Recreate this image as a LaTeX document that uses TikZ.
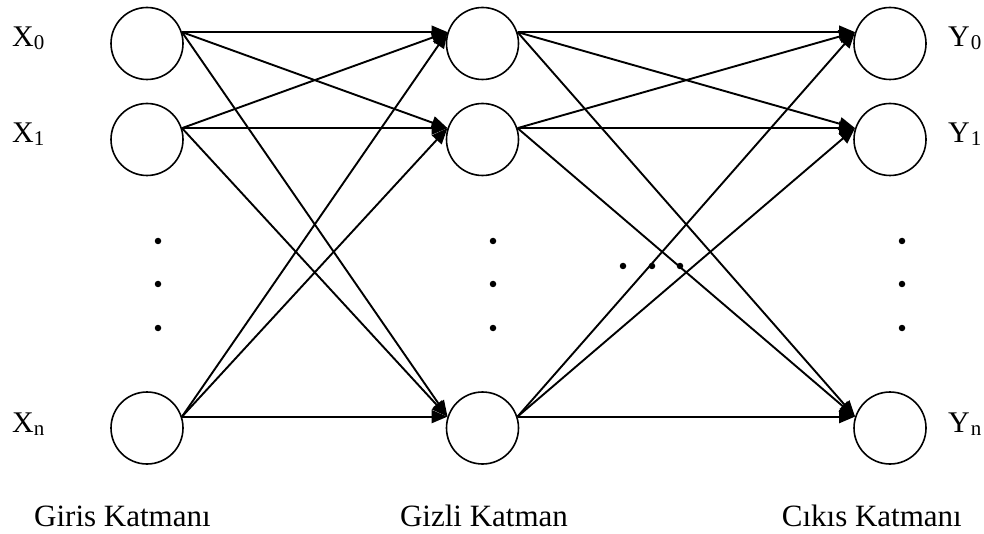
\documentclass[tikz,border=0pt]{standalone}
\usepackage{fontspec}
\setmainfont{Liberation Serif}
\usetikzlibrary{arrows.meta}
\newcommand{\lowsub}[1]{\raisebox{-3pt}{\fontsize{21}{21}\selectfont #1}}
\begin{document}
\begin{tikzpicture}[x=1pt,y=-1pt,
  neuron/.style={circle,draw,line width=1.6pt,minimum size=72pt,inner sep=0pt},
  conn/.style={line width=1.9pt,-{Triangle[length=16pt,width=13pt]}},
  lbl/.style={font=\fontsize{30}{30}\selectfont,anchor=base west,inner sep=0pt},
  layertitle/.style={font=\fontsize{31}{31}\selectfont,inner sep=0pt},
  dotmark/.style={circle,fill,inner sep=0pt,minimum size=6.5pt}]
\useasboundingbox (0,0) rectangle (984,534);
% neurons
\node[neuron] (x0) at (147,43.5) {};
\node[neuron] (x1) at (147,139.5) {};
\node[neuron] (xn) at (147,428) {};
\node[neuron] (h0) at (482.5,43.5) {};
\node[neuron] (h1) at (482.5,139.5) {};
\node[neuron] (hn) at (482.5,428) {};
\node[neuron] (y0) at (890,43.5) {};
\node[neuron] (y1) at (890,139.5) {};
\node[neuron] (yn) at (890,428) {};
% connections
\foreach \a in {x0,x1,xn}
  \foreach \b in {h0,h1,hn}
    \draw[conn] (\a.18) -- (\b.162);
\foreach \a in {h0,h1,hn}
  \foreach \b in {y0,y1,yn}
    \draw[conn] (\a.18) -- (\b.162);
% dots
\node[dotmark] (di1) at (158,241) {};
\node[dotmark] (di2) at (158,284) {};
\node[dotmark] (di3) at (158,328) {};
\node[dotmark] (dh1) at (493,241) {};
\node[dotmark] (dh2) at (493,284) {};
\node[dotmark] (dh3) at (493,328) {};
\node[dotmark] (do1) at (902,241) {};
\node[dotmark] (do2) at (902,284) {};
\node[dotmark] (do3) at (902,328) {};
\node[dotmark] (dm1) at (623,266) {};
\node[dotmark] (dm2) at (652,266) {};
\node[dotmark] (dm3) at (680,266) {};
% labels
\node[lbl] (lx0) at (12,47) {X\lowsub{0}};
\node[lbl] (lx1) at (12,143) {X\lowsub{1}};
\node[lbl] (lxn) at (12,432) {X\lowsub{n}};
\node[lbl] (ly0) at (948,47) {Y\kern1pt\lowsub{0}};
\node[lbl] (ly1) at (948,143) {Y\kern1pt\lowsub{1}};
\node[lbl] (lyn) at (948,432) {Y\kern1pt\lowsub{n}};
\node[layertitle,anchor=base west] (c1) at (34,526) {Giris Katmanı};
\node[layertitle,anchor=base] (c2) at (484,526) {Gizli Katman};
\node[layertitle,anchor=base east] (c3) at (962,526) {Cıkıs Katmanı};
\end{tikzpicture}
\end{document}
